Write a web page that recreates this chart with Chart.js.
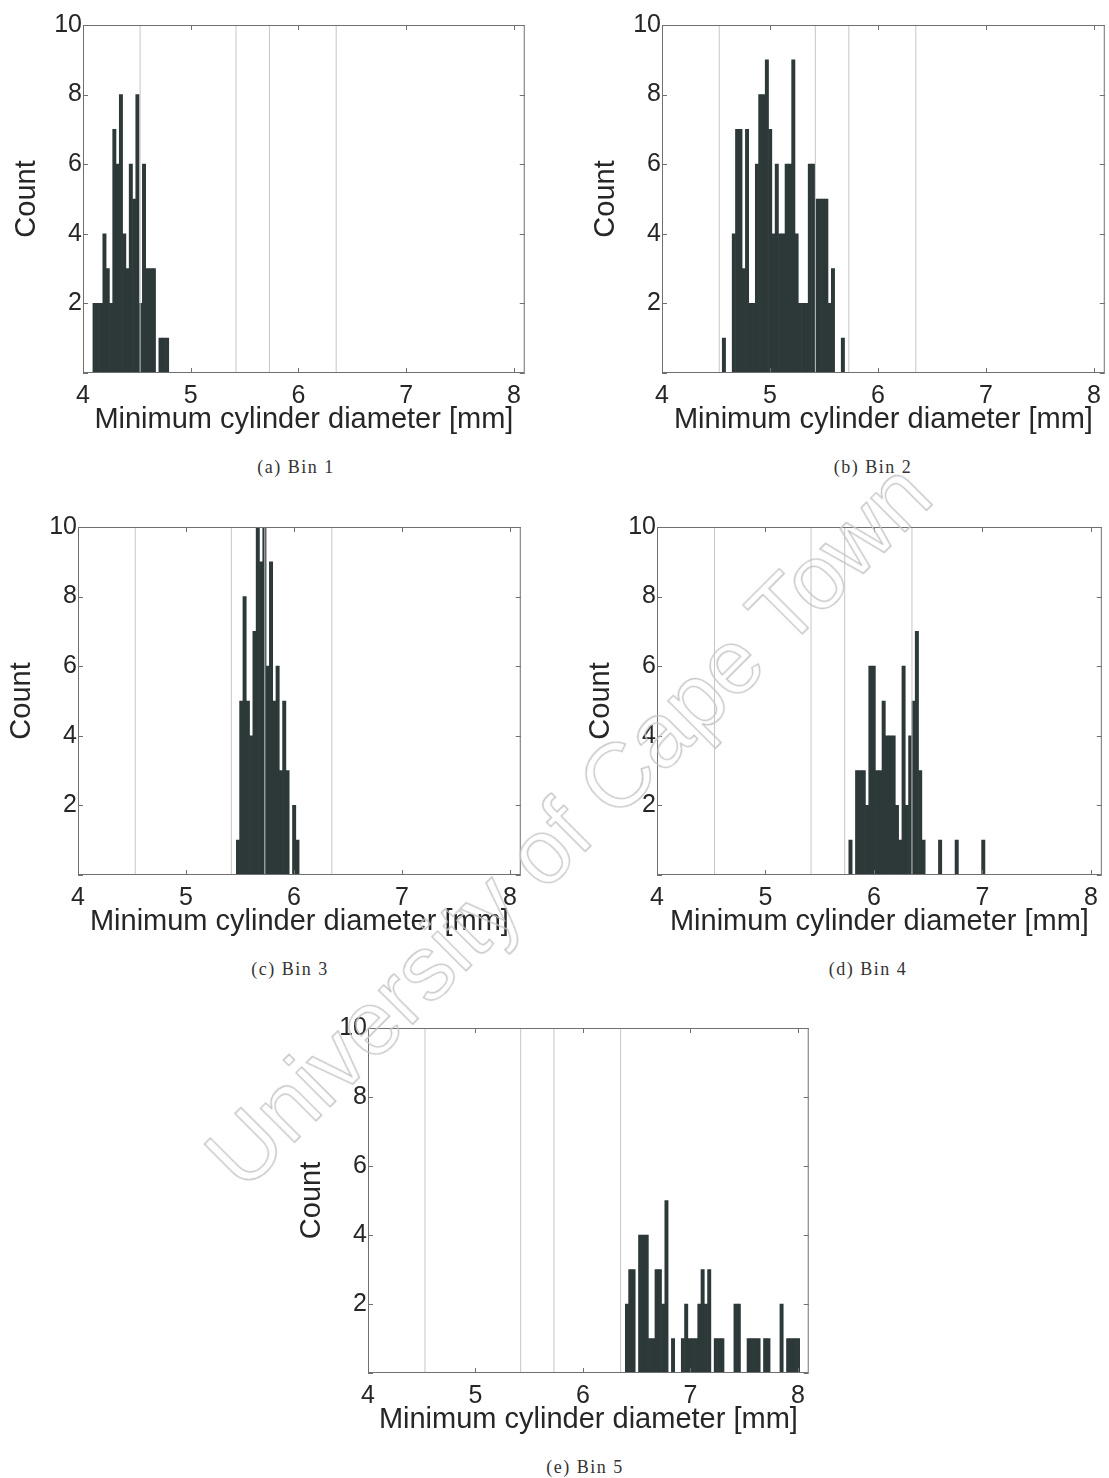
<!DOCTYPE html>
<html>
<head>
<meta charset="utf-8">
<script src="https://cdn.jsdelivr.net/npm/chart.js@4.4.0/dist/chart.umd.min.js"></script>
<style>
  html, body { margin: 0; padding: 0; background: #fff; width: 1109px; height: 1478px; overflow: hidden; }
  canvas.panel { position: absolute; }
  .cap { position: absolute; font-family: "Liberation Serif", "DejaVu Serif", serif; font-size: 18px; letter-spacing: 1.5px; color: #333; transform: translate(-50%, -50%); white-space: nowrap; }
  .wm { position: absolute; left: 568px; top: 825px; transform: translate(-50%, -50%) rotate(-45deg); font-family: "Liberation Sans", Arial, sans-serif; font-size: 91px; color: transparent; -webkit-text-stroke: 1.3px #c4c4c4; white-space: nowrap; pointer-events: none; }
</style>
</head>
<body>
<canvas id="binA" class="panel"></canvas>
<canvas id="binB" class="panel"></canvas>
<canvas id="binC" class="panel"></canvas>
<canvas id="binD" class="panel"></canvas>
<canvas id="binE" class="panel"></canvas>

<div class="cap" style="left:296px; top:467px">(a) Bin 1</div>
<div class="cap" style="left:873px; top:467px">(b) Bin 2</div>
<div class="cap" style="left:290px; top:969px">(c) Bin 3</div>
<div class="cap" style="left:868px; top:969px">(d) Bin 4</div>
<div class="cap" style="left:585px; top:1467px">(e) Bin 5</div>

<div class="wm">University of Cape Town</div>

<script>
// histogram bins (mm)
const binWidth = 0.0306;

const startA = 4.092;
const countsA = [2, 2, 2, 4, 3, 2, 7, 6, 8, 4, 3, 6, 5, 8, 2, 6, 3, 3, 3, 0, 1, 1, 1];

const startB = 4.558;
const countsB = [1, 0, 0, 4, 7, 7, 3, 7, 2, 2, 6, 8, 8, 9, 7, 4, 6, 4, 4, 6, 6, 9, 4, 2, 2, 2, 6, 6, 5, 5, 5, 5, 2, 3, 0, 0, 1];

const startC = 5.466;
const countsC = [1, 5, 8, 5, 4, 7, 10, 9, 10, 6, 9, 5, 6, 3, 5, 3, 0, 2, 1];

const startD = 5.768;
const countsD = [1, 0, 3, 3, 3, 2, 6, 6, 3, 3, 5, 4, 4, 4, 2, 1, 6, 2, 4, 5, 7, 3, 1,
                 0, 0, 0, 0, 1, 0, 0, 0, 0, 1, 0, 0, 0, 0, 0, 0, 0, 1];

const startE = 6.394;
const countsE = [2, 3, 3, 0, 4, 4, 4, 1, 1, 3, 3, 2, 5, 0, 1, 0, 0, 1, 2, 1, 1, 1, 2, 3, 2, 3, 0,
                 1, 1, 1, 0, 0, 0, 2, 2, 0, 0, 1, 1, 1, 1, 0, 1, 1, 0, 0, 0, 2, 0, 1, 1, 1, 1];

// bin boundary lines (mm)
const edges = [4.53, 5.42, 5.73, 6.35];

const xTitle = 'Minimum cylinder diameter [mm]';
const yTitle = 'Count';

const FONT = '"Liberation Sans", Arial, Helvetica, sans-serif';
const BAR = '#2d3939';
const INK = '#262626';

// frame + inward ticks, matlab style
const frame = {
  id: 'frame',
  afterDatasetsDraw(chart) {
    const { ctx, chartArea: a, scales: { x, y } } = chart;
    ctx.save();
    ctx.strokeStyle = '#707070';
    ctx.lineWidth = 1;
    ctx.strokeRect(a.left + 0.5, a.top + 0.5, a.right - a.left - 1, a.bottom - a.top - 1);
    ctx.beginPath();
    x.ticks.forEach(t => {
      const px = Math.round(x.getPixelForValue(t.value)) + 0.5;
      ctx.moveTo(px, a.bottom); ctx.lineTo(px, a.bottom - 5);
      ctx.moveTo(px, a.top); ctx.lineTo(px, a.top + 5);
    });
    y.ticks.forEach(t => {
      const py = Math.round(y.getPixelForValue(t.value)) + 0.5;
      ctx.moveTo(a.left, py); ctx.lineTo(a.left + 5, py);
      ctx.moveTo(a.right, py); ctx.lineTo(a.right - 5, py);
    });
    ctx.stroke();
    ctx.restore();
  }
};

function makeChart(id, start, counts, box) {
  const [L, T, R, B] = box;
  const padL = 80, padT = 20, padR = 3, padB = 70;
  const canvas = document.getElementById(id);
  canvas.width = R - L + padL + padR;
  canvas.height = B - T + padT + padB;
  canvas.style.left = (L - padL) + 'px';
  canvas.style.top = (T - padT) + 'px';

  const lines = edges.map(v => ({
    type: 'line',
    data: [{ x: v, y: 0 }, { x: v, y: 10 }],
    borderColor: '#c6c6c6',
    borderWidth: 1,
    pointRadius: 0,
    order: 0
  }));

  new Chart(canvas, {
    type: 'bar',
    data: {
      datasets: [{
        type: 'bar',
        data: counts.map((c, i) => ({ x: start + binWidth * (i + 0.5), y: c })),
        backgroundColor: BAR,
        barPercentage: 1,
        categoryPercentage: 1,
        order: 1
      }, ...lines]
    },
    options: {
      responsive: false,
      animation: false,
      devicePixelRatio: 1,
      layout: { padding: { left: 0, top: padT, right: padR, bottom: 0 } },
      plugins: { legend: { display: false }, tooltip: { enabled: false } },
      scales: {
        x: {
          type: 'linear',
          offset: false,
          min: 4,
          max: 8.1,
          grid: { display: false, drawTicks: false, offset: false },
          border: { display: false },
          ticks: { stepSize: 1, includeBounds: false, autoSkip: false, maxRotation: 0, padding: 8, color: INK, font: { family: FONT, size: 25 } },
          title: { display: true, text: xTitle, color: INK, font: { family: FONT, size: 29 }, padding: { top: 0, bottom: 6 } },
          afterFit: s => { s.height = padB; }
        },
        y: {
          min: 0,
          max: 10,
          grid: { display: false, drawTicks: false },
          border: { display: false },
          ticks: { stepSize: 2, padding: 1, color: INK, font: { family: FONT, size: 25 }, callback: v => (v === 0 ? '' : v) },
          title: { display: true, text: yTitle, color: INK, font: { family: FONT, size: 29 }, padding: { top: 7, bottom: 0 } },
          afterFit: s => { s.width = padL; }
        }
      }
    },
    plugins: [frame]
  });
}

makeChart('binA', startA, countsA, [83, 25, 526, 373]);
makeChart('binB', startB, countsB, [662, 25, 1106, 373]);
makeChart('binC', startC, countsC, [78, 527, 522, 875]);
makeChart('binD', startD, countsD, [657, 527, 1103, 875]);
makeChart('binE', startE, countsE, [368, 1028, 810, 1373]);
</script>
</body>
</html>
